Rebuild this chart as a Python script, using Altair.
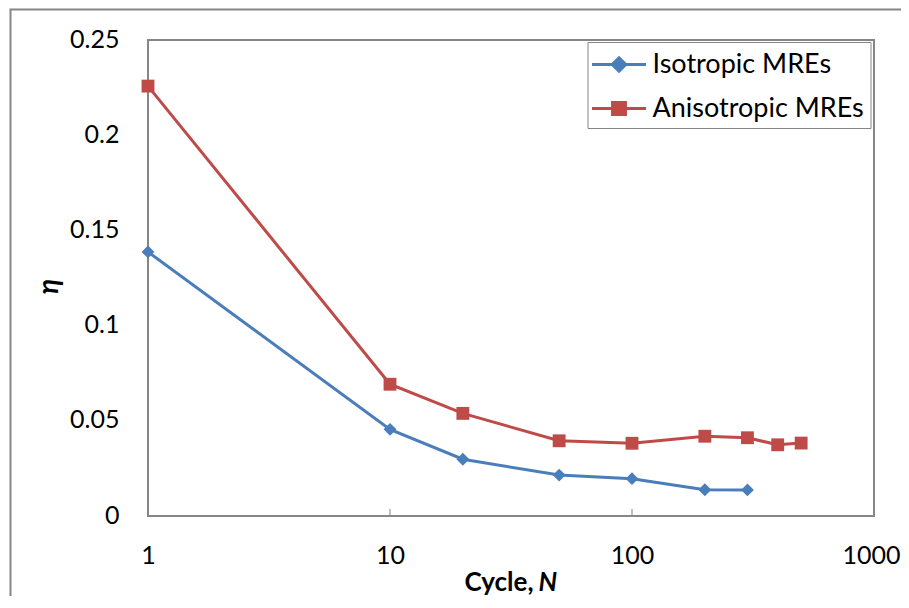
import altair as alt
import pandas as pd

# ---- data ----
cycles_iso = [1, 10, 20, 50, 100, 200, 300]
eta_iso = [0.1387, 0.0455, 0.0298, 0.0215, 0.0196, 0.0138, 0.0137]
cycles_aniso = [1, 10, 20, 50, 100, 200, 300, 400, 500]
eta_aniso = [0.2258, 0.0692, 0.0539, 0.0395, 0.0382, 0.0419, 0.0411, 0.0374, 0.0383]
series_names = ["Isotropic MREs", "Anisotropic MREs"]
series_colors = ["#4a7ebb", "#be4b48"]
x_ticks = [1, 10, 100, 1000]
y_ticks = [0, 0.05, 0.1, 0.15, 0.2, 0.25]
x_title_main = "Cycle, "
x_title_var = "N"
y_title = "η"

FONT = "Lato, Carlito, DejaVu Sans"
GRAY = "#868686"
W, H = 726, 476

df = pd.concat([
    pd.DataFrame({"N": cycles_iso, "eta": eta_iso, "series": series_names[0]}),
    pd.DataFrame({"N": cycles_aniso, "eta": eta_aniso, "series": series_names[1]}),
], ignore_index=True)

x_enc = alt.X(
    "N:Q",
    scale=alt.Scale(type="log", domain=[1, 1000]),
    axis=alt.Axis(values=x_ticks, format="d", grid=False, ticks=False, domain=False,
                  labelFont=FONT, labelFontSize=25, labelColor="black",
                  labelOffset={"condition": {"test": "datum.value >= 1000", "value": -3}, "value": 0},
                  labelPadding=27, labelFlush=False, labelOverlap=False, title=None),
)
y_enc = alt.Y(
    "eta:Q",
    scale=alt.Scale(domain=[0, 0.25], nice=False, zero=True),
    axis=alt.Axis(values=y_ticks, format=".2~f", grid=False, ticks=False, domain=False,
                  labelFont=FONT, labelFontSize=25, labelColor="black",
                  labelPadding=29, labelOffset=-1, labelFlush=False, labelOverlap=False,
                  title=y_title, titleFont=FONT, titleFontSize=28, titleFontWeight="bold",
                  titleFontStyle="italic", titleColor="black", titleAngle=270,
                  titleX=-99, titleY=246, titleAlign="center", titleBaseline="middle"),
)

color_scale = alt.Scale(domain=series_names, range=series_colors)

# legend symbols: line segment with marker, as custom SVG paths
iso_path = "M-1.2,0L2.4,0M0.6,-0.45L1.05,0L0.6,0.45L0.15,0Z"
aniso_path = "M-1.2,0L2.4,0M0.17,-0.4L1.03,-0.4L1.03,0.4L0.17,0.4Z"

legend = alt.Legend(
    title=None, orient="none", legendX=439.5, legendY=2,
    padding=6, rowPadding=14, labelOffset=26, symbolSize=900, labelLimit=500,
    labelFont=FONT, labelFontSize=27, labelColor="black",
    strokeColor=GRAY, fillColor="white", symbolStrokeWidth=3, symbolOpacity=1,
)

base = alt.Chart(df)

lines = base.mark_line(strokeWidth=3).encode(
    x=x_enc, y=y_enc,
    color=alt.Color("series:N", scale=color_scale, legend=None),
)

points = base.mark_point(filled=True, size=165, opacity=1, strokeWidth=1).encode(
    x=x_enc, y=y_enc,
    color=alt.Color("series:N", scale=color_scale, legend=None),
    shape=alt.Shape("series:N", scale=alt.Scale(domain=series_names, range=["diamond", "square"]), legend=None),
)

legend_layer = base.transform_filter("false").mark_point(filled=True, opacity=1, strokeWidth=3).encode(
    x=x_enc, y=y_enc,
    fill=alt.Fill("series:N", scale=color_scale, legend=legend),
    stroke=alt.Stroke("series:N", scale=color_scale, legend=legend),
    shape=alt.Shape("series:N", scale=alt.Scale(domain=series_names, range=[iso_path, aniso_path]), legend=legend),
)

tick_df = pd.DataFrame({"N": x_ticks})
xticks = alt.Chart(tick_df).mark_tick(color=GRAY, thickness=1.5, size=7, orient="vertical").encode(
    x=alt.X("N:Q", scale=alt.Scale(type="log", domain=[1, 1000])),
    y=alt.value(H - 3.5),
)

one = pd.DataFrame({"a": [0]})
border = alt.Chart(one).mark_rect(
    fillOpacity=0, stroke=GRAY, strokeWidth=2
).encode(x=alt.value(-137.5), y=alt.value(-30.5), x2=alt.value(1000), y2=alt.value(1000))

frame = alt.Chart(one).mark_rect(
    fillOpacity=0, stroke=GRAY, strokeWidth=2
).encode(x=alt.value(0), y=alt.value(0), x2=alt.value(W), y2=alt.value(H))

t1 = alt.Chart(pd.DataFrame({"t": [x_title_main]})).mark_text(
    font=FONT, fontSize=26, fontWeight="bold", align="right", baseline="middle", color="black"
).encode(text="t:N", x=alt.value(385.5), y=alt.value(543))

t2 = alt.Chart(pd.DataFrame({"t": [x_title_var]})).mark_text(
    font=FONT, fontSize=26, fontWeight="bold", fontStyle="italic", align="left",
    baseline="middle", color="black"
).encode(text="t:N", x=alt.value(390.5), y=alt.value(543))

chart = alt.layer(border, frame, lines, points, legend_layer, xticks, t1, t2).resolve_scale(
    shape="independent", fill="independent", stroke="independent"
).properties(
    width=W, height=H,
    autosize=alt.AutoSizeParams(type="none"),
    padding={"left": 140, "top": 32, "right": 27, "bottom": 80},
).configure_view(strokeWidth=0).configure(background="white")

chart.save("out.html", embed_options={"renderer": "svg", "actions": False})
